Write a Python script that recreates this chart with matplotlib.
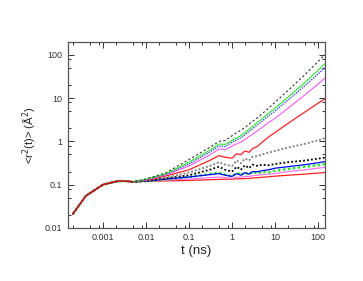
import numpy as np
import matplotlib
matplotlib.use("Agg")
import matplotlib.pyplot as plt
from matplotlib.ticker import FixedLocator, LogLocator, NullFormatter

plt.rcParams['font.family'] = ['Liberation Sans', 'DejaVu Sans']

# time points (ns)
t = [0.0002, 0.0004, 0.001, 0.002, 0.003, 0.005, 0.01, 0.03, 0.1, 0.3, 0.5, 0.7,
     1.0, 1.3, 1.6, 2.0, 2.5, 3.0, 4.0, 5.0, 7.0, 10, 20, 50, 100, 145]

# common short-time part
start = [0.021, 0.055, 0.100, 0.118, 0.122, 0.116]

# upper group
black_top = start + [0.135, 0.19, 0.38, 0.72, 1.0, 1.05, 1.35, 1.6, 1.8, 2.1, 2.5, 2.9,
                     3.6, 4.3, 5.8, 8.0, 15, 35, 70, 100]
green_top = start + [0.132, 0.18, 0.33, 0.62, 0.87, 0.85, 1.05, 1.2, 1.35, 1.6, 1.9, 2.2,
                     2.8, 3.3, 4.4, 5.8, 10.5, 23, 44, 62]
blue_top = start + [0.13, 0.175, 0.30, 0.56, 0.78, 0.76, 0.95, 1.08, 1.2, 1.42, 1.7, 1.95,
                    2.45, 2.9, 3.85, 5.0, 9.0, 19.5, 36, 50]
magenta_top = start + [0.128, 0.17, 0.27, 0.48, 0.67, 0.64, 0.78, 0.88, 0.96, 1.1, 1.3, 1.45,
                       1.8, 2.1, 2.7, 3.4, 5.8, 12, 21, 29]
red_top = start + [0.125, 0.16, 0.22, 0.36, 0.47, 0.43, 0.41, 0.52, 0.49, 0.6, 0.56, 0.68,
                   0.78, 0.95, 1.25, 1.6, 2.6, 4.8, 7.6, 9.6]

# lower group
gray_low = start + [0.125, 0.145, 0.19, 0.27, 0.33, 0.29, 0.27, 0.36, 0.31, 0.40, 0.36, 0.44,
                    0.46, 0.5, 0.55, 0.6, 0.72, 0.88, 1.05, 1.2]
black_low = start + [0.122, 0.14, 0.165, 0.22, 0.26, 0.22, 0.2, 0.26, 0.22, 0.28, 0.24, 0.29,
                     0.27, 0.29, 0.28, 0.3, 0.33, 0.36, 0.4, 0.42]
blue_low = start + [0.12, 0.135, 0.15, 0.17, 0.18, 0.165, 0.155, 0.18, 0.165, 0.19, 0.175, 0.2,
                    0.2, 0.21, 0.22, 0.24, 0.26, 0.29, 0.32, 0.34]
green_low = start + [0.12, 0.133, 0.15, 0.175, 0.19, 0.17, 0.155, 0.19, 0.165, 0.19, 0.17, 0.2,
                     0.18, 0.2, 0.19, 0.21, 0.23, 0.26, 0.28, 0.3]
magenta_low = start + [0.12, 0.128, 0.135, 0.145, 0.15, 0.145, 0.14, 0.15, 0.148, 0.155, 0.155, 0.16,
                       0.165, 0.17, 0.175, 0.18, 0.2, 0.22, 0.24, 0.25]
red_low = start + [0.12, 0.122, 0.125, 0.13, 0.132, 0.133, 0.134, 0.136, 0.137, 0.138, 0.14, 0.142,
                   0.145, 0.148, 0.152, 0.157, 0.165, 0.175, 0.185, 0.19]

fig = plt.figure(figsize=(3.63, 2.81), dpi=100)
ax = fig.add_axes([0.187, 0.189, 0.708, 0.662])

# lower group first
ax.plot(t, red_low, color='#ff2020', lw=0.9)
ax.plot(t, magenta_low, color='#ff66ff', lw=0.8)
ax.plot(t, green_low, color='#22ee22', lw=1.8, linestyle=(0, (1, 1)))
ax.plot(t, blue_low, color='#0000ff', lw=0.9)
ax.plot(t, black_low, color='black', lw=1.3, linestyle=(0, (1, 1.2)))
ax.plot(t, gray_low, color='#888888', lw=1.4, linestyle=(0, (1, 1)))
# upper group
ax.plot(t, red_top, color='#ff2020', lw=0.9)
ax.plot(t, magenta_top, color='#ff55ff', lw=0.8)
ax.plot(t, blue_top, color='#2020ff', lw=0.9, linestyle=(0, (1, 1)))
ax.plot(t, green_top, color='#22ee22', lw=0.8)
ax.plot(t, black_top, color='#333333', lw=0.8, linestyle=(0, (2, 2)))
ax.plot(t[:6], start, color='#dd1010', lw=1.0)

ax.set_xscale('log')
ax.set_yscale('log')
ax.set_xlim(1.53e-4, 145)
ax.set_ylim(0.01, 200)

xt = [0.001, 0.01, 0.1, 1, 10, 100]
ax.xaxis.set_major_locator(FixedLocator(xt))
ax.set_xticklabels(['0.001', '0.01', '0.1', '1', '10', '100'])
yt = [0.01, 0.1, 1, 10, 100]
ax.yaxis.set_major_locator(FixedLocator(yt))
ax.set_yticklabels(['0.01', '0.1', '1', '10', '100'])
for a in (ax.xaxis, ax.yaxis):
    a.set_minor_locator(LogLocator(base=10, subs=(2, 5, 8)))
    a.set_minor_formatter(NullFormatter())

ax.tick_params(which='both', direction='in', top=True, right=True,
               labelsize=6.5, colors='#333333', width=0.7)
ax.tick_params(which='major', length=4, pad=4)
ax.tick_params(which='minor', length=2.5)
for s in ax.spines.values():
    s.set_color('#555555')
    s.set_linewidth(0.9)

ax.set_xlabel('t (ns)', fontsize=9.5, color='#222222', labelpad=2)
ax.set_ylabel(r'<r$^2$(t)> ($\mathrm{\AA}^2$)', fontsize=8, color='#222222', labelpad=4)

fig.savefig('out.png', dpi=100)
